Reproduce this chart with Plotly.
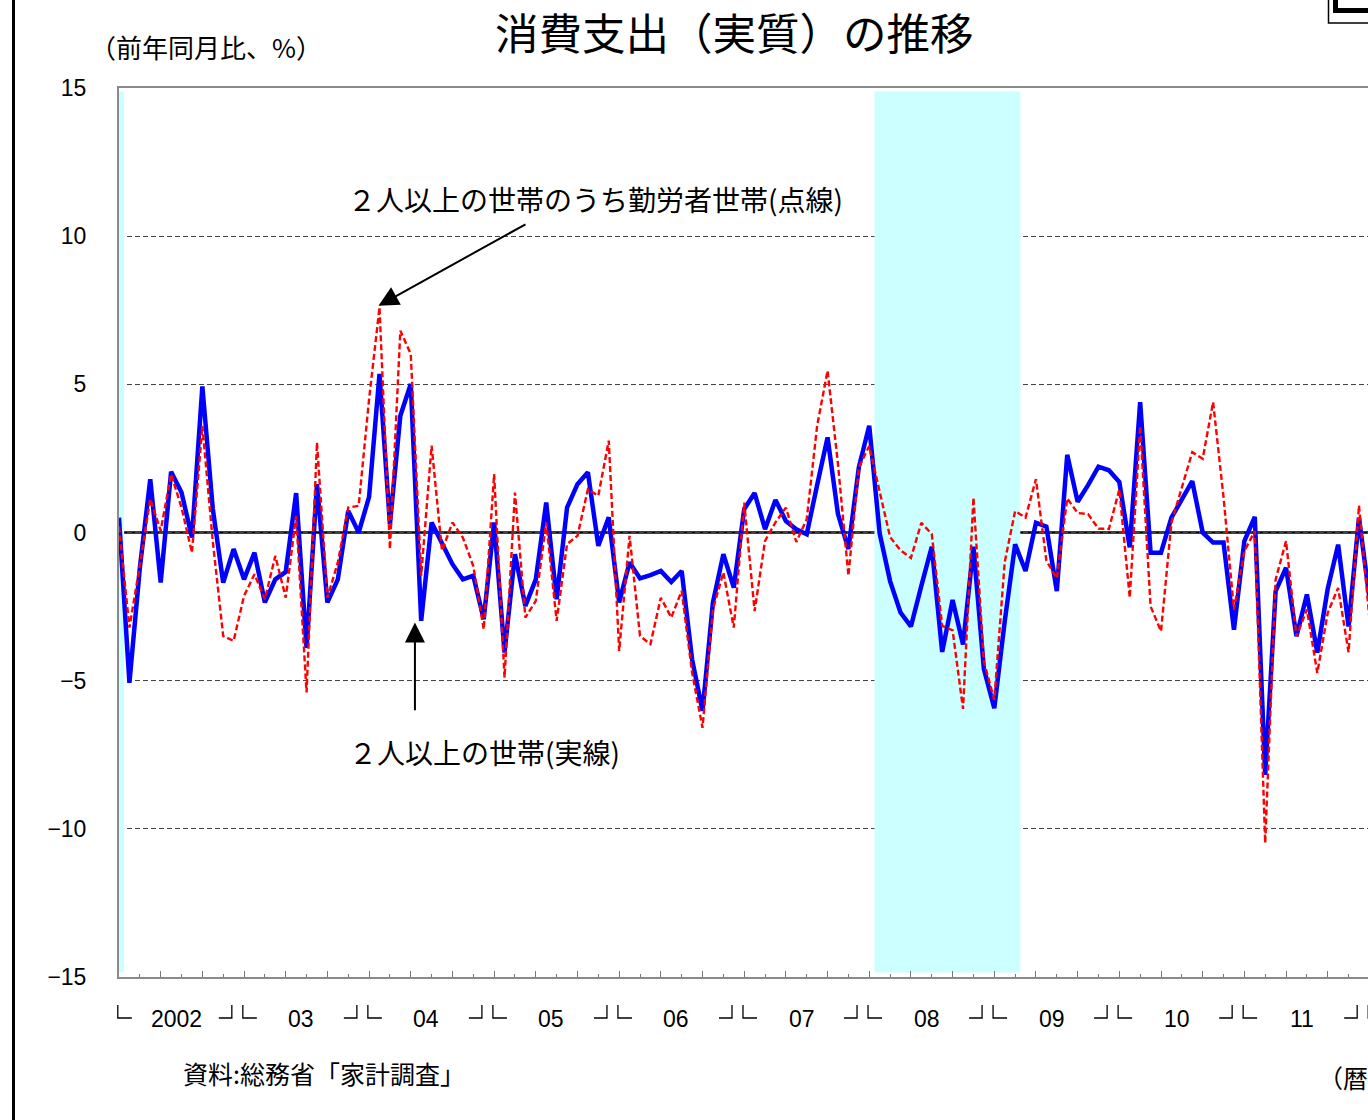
import plotly.graph_objects as go

# ---------------- data ----------------
months = [f"{y}-{m:02d}" for y in range(2002, 2013) for m in range(1, 13)][:121]

# 2人以上の世帯 (実線)
households = [
    0.5, -5.07, -1.2, 1.8, -1.69, 2.05, 1.35, -0.17, 4.93, 0.8, -1.69, -0.56,
    -1.58, -0.68, -2.36, -1.58, -1.33, 1.33, -3.89, 1.63, -2.36, -1.58, 0.73, 0.0,
    1.2, 5.35, 0.28, 3.94, 5.01, -2.98, 0.34, -0.34, -1.07, -1.58, -1.46, -2.93,
    0.34, -4.05, -0.73, -2.48, -1.58, 1.01, -2.25, 0.84, 1.63, 2.03, -0.45, 0.51,
    -2.36, -1.01, -1.55, -1.44, -1.30, -1.67, -1.30, -4.28, -6.02, -2.36, -0.73, -1.86,
    0.79, 1.33, 0.11, 1.10, 0.39, 0.11, -0.06, 1.6, 3.21, 0.62, -0.56, 2.2,
    3.6, -0.03, -1.64, -2.7, -3.17, -1.8, -0.48, -4.03, -2.28, -3.78, -0.48, -4.6,
    -5.93, -3.0, -0.4, -1.3, 0.33, 0.2, -1.98, 2.62, 1.04, 1.6, 2.22, 2.1,
    1.7, -0.5, 4.4, -0.68, -0.68, 0.5, 1.11, 1.73, 0.0, -0.34, -0.34, -3.28,
    -0.29, 0.53, -8.18, -1.98, -1.19, -3.5, -2.09, -4.05, -1.9, -0.41, -3.17, 0.5,
    -2.2,
]

# 2人以上の世帯のうち勤労者世帯 (点線)
workers = [
    0.2, -3.21, -1.1, 1.13, 0.06, 1.97, 0.84, -0.68, 3.6, -0.3, -3.49, -3.66,
    -2.14, -1.41, -2.25, -0.79, -2.2, 0.56, -5.4, 3.04, -2.2, -1.01, 0.84, 0.9,
    4.5, 7.6, -0.56, 6.81, 6.02, -1.46, 2.93, -0.62, 0.34, -0.17, -1.13, -3.27,
    1.97, -4.9, 1.35, -2.87, -2.31, 0.34, -2.98, -0.39, -0.11, 1.46, 1.24, 3.1,
    -4.0, -0.11, -3.49, -3.77, -2.20, -2.87, -1.97, -4.73, -6.59, -2.59, -1.35, -3.21,
    1.01, -2.65, -0.28, 0.34, 0.84, -0.32, 0.45, 3.6, 5.46, 2.31, -1.46, 2.2,
    2.92, 1.43, -0.15, -0.6, -0.86, 0.33, -0.05, -3.15, -3.3, -5.95, 1.18, -4.35,
    -5.65, -1.0, 0.72, 0.5, 1.8, -0.95, -1.55, 1.15, 0.66, 0.62, 0.13, 0.12,
    1.45, -2.2, 3.59, -2.49, -3.33, 0.33, 1.5, 2.71, 2.49, 4.4, 1.2, -2.6,
    -0.63, 0.05, -10.48, -1.59, -0.29, -3.5, -2.6, -4.74, -2.71, -1.87, -4.04, 0.91,
    -2.9,
]

year_labels = ["2002", "03", "04", "05", "06", "07", "08", "09", "10", "11"]
y_ticks = [-15, -10, -5, 0, 5, 10, 15]
recessions = [("2001-01", "2002-01"), ("2008-02", "2009-03")]

# ---------------- layout geometry ----------------
W, H = 1368, 1120
L, T, B = 119, 88, 977
PW, PH = W - L, B - T
PPM = 10.42                     # pixels per month
XMAX = PW / PPM


def pxx(px):
    return (px - L) / PW


def pxy(py):
    return (B - py) / PH


def mx(m):  # month position -> paper x
    return m / XMAX


x = list(range(len(months)))

fig = go.Figure()
fig.add_trace(go.Scatter(x=x, y=households, mode="lines",
                         line=dict(color="#0000FF", width=4.5),
                         name="2人以上の世帯", hoverinfo="skip"))
fig.add_trace(go.Scatter(x=x, y=workers, mode="lines",
                         line=dict(color="#FF0000", width=2.4, dash="6px,3px"),
                         name="勤労者世帯", hoverinfo="skip"))

shapes = []
# recession shading
for s, e in recessions:
    i0 = months.index(s) if s in months else -12
    i1 = months.index(e)
    shapes.append(dict(type="rect", xref="x", yref="y", x0=i0 - 0.5, x1=i1 + 0.5,
                       y0=-14.85, y1=14.88, fillcolor="#CCFFFF",
                       line=dict(width=0), layer="between"))
# zero line
shapes.append(dict(type="line", xref="paper", yref="y", x0=0, x1=1, y0=0, y1=0,
                   line=dict(color="black", width=2.5), layer="between"))

# year bracket marks under the axis
yb_top, yb_bot = pxy(1005), pxy(1018)
for k in range(len(year_labels) + 1):
    b = 12 * k - 0.5
    # "┘"
    if k > 0:
        xr = mx(b) - 7 / PW
        xl = mx(b) - 20 / PW
        shapes.append(dict(type="path", xref="paper", yref="paper",
                           path=f"M {xl},{yb_bot} L {xr},{yb_bot} L {xr},{yb_top}",
                           line=dict(color="black", width=1.3)))
    # "└"
    xl = mx(b) + 4 / PW
    xr = mx(b) + 18 / PW
    shapes.append(dict(type="path", xref="paper", yref="paper",
                       path=f"M {xl},{yb_top} L {xl},{yb_bot} L {xr},{yb_bot}",
                       line=dict(color="black", width=1.3)))

# page border at left
shapes.append(dict(type="line", xref="paper", yref="paper",
                   x0=pxx(13.5), x1=pxx(13.5), y0=-0.3, y1=1.3,
                   line=dict(color="black", width=3)))
# top-right box corner
shapes.append(dict(type="path", xref="paper", yref="paper",
                   path=f"M {pxx(1328.5)},{pxy(-10)} L {pxx(1328.5)},{pxy(23)} L {pxx(1390)},{pxy(23)}",
                   line=dict(color="black", width=1.5)))
shapes.append(dict(type="path", xref="paper", yref="paper",
                   path=f"M {pxx(1335.5)},{pxy(-10)} L {pxx(1335.5)},{pxy(10.5)} L {pxx(1390)},{pxy(10.5)}",
                   line=dict(color="black", width=5)))

JP = "Noto Sans CJK JP"
annotations = []
# title and unit
annotations.append(dict(text="消費支出（実質）の推移", xref="paper", yref="paper",
                        x=pxx(734), y=pxy(32), xanchor="center", yanchor="middle",
                        showarrow=False, font=dict(family=JP, size=43.5, color="black")))
annotations.append(dict(text="（前年同月比、%）", xref="paper", yref="paper",
                        x=pxx(88), y=pxy(46), xanchor="left", yanchor="middle",
                        showarrow=False, font=dict(family=JP, size=26, color="black")))
# series labels with arrows
annotations.append(dict(text="２人以上の世帯のうち勤労者世帯(点線)", xref="paper", yref="paper",
                        x=pxx(595), y=pxy(199), xanchor="center", yanchor="middle",
                        showarrow=False, font=dict(family=JP, size=28, color="black")))
annotations.append(dict(text="", xref="x", yref="y", x=24.9, y=7.65,
                        axref="x", ayref="y", ax=(527 - L) / PPM, ay=(533 - 224) / 29.63,
                        showarrow=True, arrowhead=2, arrowsize=2, arrowwidth=2,
                        arrowcolor="black", standoff=0))
annotations.append(dict(text="２人以上の世帯(実線)", xref="paper", yref="paper",
                        x=pxx(484), y=pxy(752), xanchor="center", yanchor="middle",
                        showarrow=False, font=dict(family=JP, size=28, color="black")))
annotations.append(dict(text="", xref="x", yref="y", x=28.4, y=-3.04,
                        axref="x", ayref="y", ax=28.4, ay=-6.05,
                        showarrow=True, arrowhead=2, arrowsize=2, arrowwidth=2,
                        arrowcolor="black", standoff=0))
# year labels
for k, lab in enumerate(year_labels):
    annotations.append(dict(text=lab, xref="x", yref="paper", x=12 * k + 5.5, y=pxy(1019),
                            xanchor="center", yanchor="middle", showarrow=False,
                            font=dict(family="Liberation Sans Narrow, Liberation Sans", size=23,
                                      color="black")))
# source and x-unit
annotations.append(dict(text="資料:総務省「家計調査」", xref="paper", yref="paper",
                        x=pxx(181), y=pxy(1073), xanchor="left", yanchor="middle",
                        showarrow=False, font=dict(family=JP, size=25, color="black")))
annotations.append(dict(text="（暦年・月）", xref="paper", yref="paper",
                        x=pxx(1316), y=pxy(1077), xanchor="left", yanchor="middle",
                        showarrow=False, font=dict(family=JP, size=25, color="black")))

fig.update_layout(
    width=W, height=H,
    margin=dict(l=L, r=0, t=T, b=H - B, pad=0),
    paper_bgcolor="white", plot_bgcolor="white",
    showlegend=False,
    shapes=shapes, annotations=annotations,
    xaxis=dict(range=[0, XMAX], showgrid=False, zeroline=False,
               showline=True, mirror=True, linecolor="#8a8a8a", linewidth=2,
               tickmode="linear", tick0=0, dtick=4, ticks="inside", ticklen=6,
               tickcolor="#777", tickwidth=1, showticklabels=False,
               minor=dict(tickmode="linear", tick0=0, dtick=2, ticks="inside",
                          ticklen=3, tickcolor="#777", tickwidth=1, showgrid=False)),
    yaxis=dict(range=[-15, 15], tickvals=y_ticks, showgrid=True,
               gridcolor="#444", gridwidth=1.2, griddash="5px,3px",
               zeroline=False, showline=True, linecolor="#8a8a8a", linewidth=2,
               ticks="", ticklabelstandoff=26,
               tickfont=dict(family="Liberation Sans", size=23, color="black")),
)

fig.write_html("out.html", config={"displayModeBar": False},
               post_script="document.body.style.margin='0';")
